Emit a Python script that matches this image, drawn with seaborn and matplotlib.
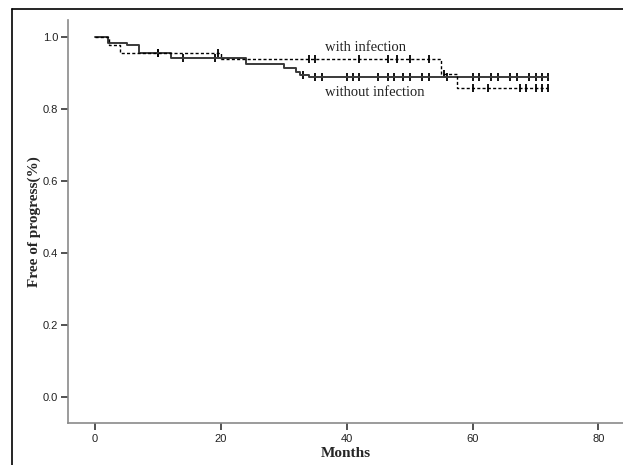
import numpy as np
import pandas as pd
import matplotlib
matplotlib.use("Agg")
import matplotlib.pyplot as plt
from matplotlib.lines import Line2D
import seaborn as sns

# Kaplan-Meier steps (months, proportion free of progress)
without_times = [0, 2, 5, 7, 12, 24, 30, 32, 32.6, 34, 72]
without_surv = [1.0, 0.983, 0.978, 0.956, 0.942, 0.925, 0.914, 0.903, 0.894, 0.889, 0.889]
without_censor = [10, 14, 19, 33, 35, 36, 40, 41, 42, 45, 46.5, 47.5, 49, 50, 52, 53,
                  56, 60, 61, 63, 64, 66, 67, 69, 70, 71, 72]

with_times = [0, 2.2, 4, 20, 55, 57.5, 72]
with_surv = [1.0, 0.978, 0.956, 0.939, 0.898, 0.857, 0.857]
with_censor = [10, 19.5, 34, 35, 42, 46.5, 48, 50, 53, 55.5, 60, 62.5, 67.5, 68.5,
               70, 71, 72]

x_ticks = [0, 20, 40, 60, 80]
y_ticks = [0.0, 0.2, 0.4, 0.6, 0.8, 1.0]


def surv_at(times, surv, t):
    idx = np.searchsorted(times, t, side="right") - 1
    return np.asarray(surv)[idx]


sns.set_theme(style="white")
plt.rcParams["font.family"] = ["Liberation Sans", "DejaVu Sans"]

fig = plt.figure(figsize=(6.23, 4.65), dpi=100)
ax = fig.add_axes([68 / 623, 1 - 423 / 465, 1 - 68 / 623, (423 - 20) / 465])

curves = pd.DataFrame({
    "month": without_times + with_times,
    "surv": without_surv + with_surv,
    "group": ["without"] * len(without_times) + ["with"] * len(with_times),
})
sns.lineplot(data=curves[curves.group == "without"], x="month", y="surv",
             drawstyle="steps-post", color="#3a3a3a", linewidth=1.4, ax=ax)
sns.lineplot(data=curves[curves.group == "with"], x="month", y="surv",
             drawstyle="steps-post", color="black", linewidth=1.0,
             linestyle=(0, (2.2, 1.6)), ax=ax)

cens = pd.DataFrame({
    "month": without_censor + with_censor,
    "surv": list(surv_at(without_times, without_surv, without_censor))
    + list(surv_at(with_times, with_surv, with_censor)),
})
sns.scatterplot(data=cens, x="month", y="surv", marker="|", s=28,
                color="black", linewidth=1.3, ax=ax)

ax.text(43, 0.972, "with infection", ha="center", va="center",
        family="Liberation Serif", fontsize=10.5, color="#222222")
ax.text(44.4, 0.847, "without infection", ha="center", va="center",
        family="Liberation Serif", fontsize=10.5, color="#222222")

ax.set_xlim(-4.3, 83.9)
ax.set_ylim(-0.072, 1.047)
ax.set_xticks(x_ticks)
ax.set_xticklabels([str(t) for t in x_ticks])
ax.set_yticks(y_ticks)
ax.set_yticklabels([f"{t:.1f}" for t in y_ticks])
ax.tick_params(axis="both", direction="out", length=5, width=1.2,
               color="#333333", labelsize=8, labelcolor="#222222", pad=2)
ax.tick_params(axis="x", bottom=True, pad=3)
ax.tick_params(axis="y", left=True)

ax.set_xlabel("Months", family="Liberation Serif", fontweight="bold",
              fontsize=11, labelpad=2.2)
ax.set_ylabel("Free of progress(%)", family="Liberation Serif",
              fontweight="bold", fontsize=11, labelpad=1.4)

for side in ["top", "right"]:
    ax.spines[side].set_visible(False)
for side in ["left", "bottom"]:
    ax.spines[side].set_color("#8a8a8a")
    ax.spines[side].set_linewidth(1.2)

# outer frame of the original figure (left and top edges)
fig.add_artist(Line2D([12 / 623, 12 / 623], [0, 1 - 9 / 465],
                      transform=fig.transFigure, color="black", linewidth=1.2))
fig.add_artist(Line2D([12 / 623, 1], [1 - 9 / 465, 1 - 9 / 465],
                      transform=fig.transFigure, color="black", linewidth=1.2))

fig.savefig("out.png", dpi=100)
